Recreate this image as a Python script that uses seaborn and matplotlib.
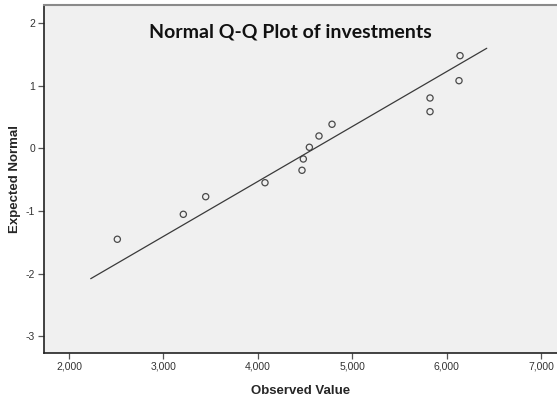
import matplotlib
matplotlib.use("Agg")
import matplotlib.pyplot as plt
import matplotlib.ticker as mticker
import pandas as pd
import seaborn as sns

observed = [2512, 3211, 3448, 4076, 4468, 4482, 4546, 4648, 4786, 5824, 5824, 6131, 6142]
expected = [-1.451, -1.053, -0.772, -0.549, -0.351, -0.171, 0.016, 0.196, 0.383, 0.584, 0.802, 1.078, 1.477]

# reference line end points
line_x = [2230, 6425]
line_y = [-2.080, 1.595]

x_ticks = [2000, 3000, 4000, 5000, 6000, 7000]
y_ticks = [2, 1, 0, -1, -2, -3]

title = "Normal Q-Q Plot of investments"

sns.set_style("white", {"axes.facecolor": "#F0F0F0"})
plt.rcParams["font.family"] = ["Liberation Sans", "DejaVu Sans"]
plt.rcParams["axes.unicode_minus"] = False

df = pd.DataFrame({"observed": observed, "expected": expected})
df_line = pd.DataFrame({"x": line_x, "y": line_y})

fig = plt.figure(figsize=(5.57, 4.01), dpi=100)
ax = fig.add_axes([43.5 / 557, (401 - 353) / 401, (557 - 43.5) / 557, (353 - 4.5) / 401])

sns.lineplot(data=df_line, x="x", y="y", ax=ax, color="#3a3a3a", linewidth=0.9)
sns.scatterplot(data=df, x="observed", y="expected", ax=ax, s=20, marker="o",
                facecolor="none", edgecolor="#4a4a4a", linewidth=0.9)

ax.set_xlim(1730, 7169)
ax.set_ylim(-3.265, 2.293)
ax.set_xticks(x_ticks)
ax.set_yticks(y_ticks)
ax.xaxis.set_major_formatter(mticker.FuncFormatter(lambda v, p: f"{v:,.0f}"))
ax.yaxis.set_major_formatter(mticker.FuncFormatter(lambda v, p: f"{v:.0f}"))
ax.tick_params(axis="both", direction="out", length=4, width=0.9, color="#555555",
               labelsize=7.5, labelcolor="#333333", pad=2, left=True, bottom=True)

for side in ["left", "bottom"]:
    ax.spines[side].set_color("#222222")
    ax.spines[side].set_linewidth(1.2)
ax.spines["top"].set_color("#8a8a8a")
ax.spines["top"].set_linewidth(1.5)
ax.spines["right"].set_visible(False)

ax.set_xlabel("Observed Value", fontsize=9.5, fontweight="bold")
ax.set_ylabel("Expected Normal", fontsize=9.5, fontweight="bold")
ax.xaxis.set_label_coords(0.5, (353 - 391) / (353 - 4.5))
ax.yaxis.set_label_coords((15 - 43.5) / (557 - 43.5), 0.5)
ax.xaxis.label.set_va("center")
ax.yaxis.label.set_va("center")

ax.text((290 - 43.5) / (557 - 43.5), (353 - 32) / (353 - 4.5), title,
        transform=ax.transAxes, ha="center", va="center",
        fontsize=14, fontweight="bold", family=["Lato", "DejaVu Sans"], color="#111111")

fig.savefig("out.png", dpi=100)
